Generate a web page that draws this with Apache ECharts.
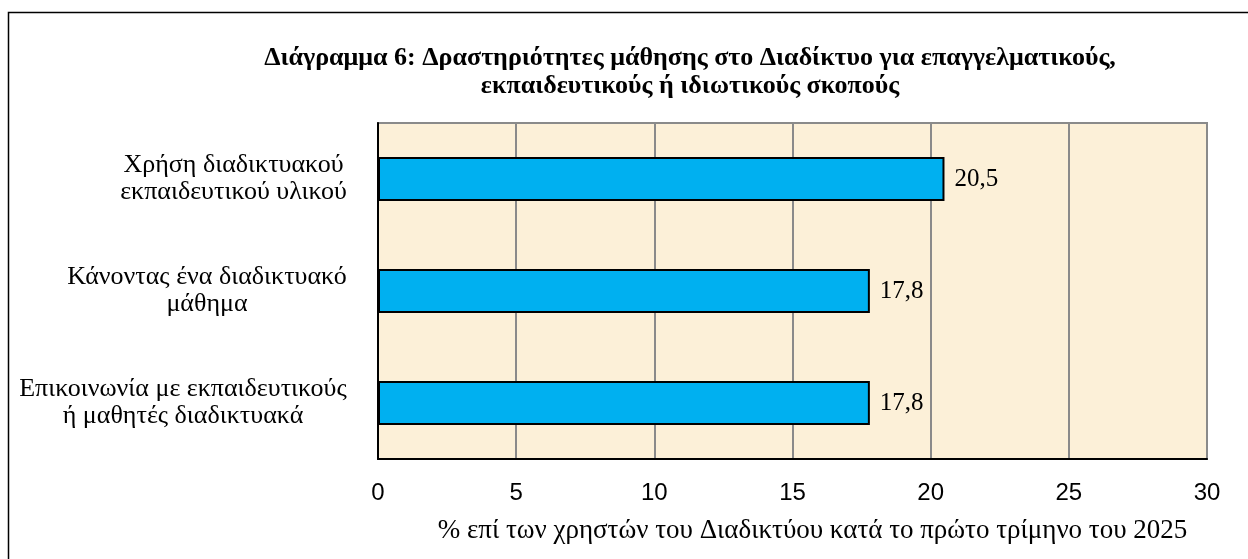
<!DOCTYPE html>
<html>
<head>
<meta charset="utf-8">
<script src="https://cdn.jsdelivr.net/npm/echarts@6/dist/echarts.min.js"></script>
<style>
  html, body { margin: 0; padding: 0; background: #fff; }
  #chart { width: 1248px; height: 559px; }
</style>
</head>
<body>
<div id="chart"></div>
<script>
// κατηγορίες (από κάτω προς τα πάνω, όπως τις βάζει ο άξονας)
var categories = [
  'Επικοινωνία με εκπαιδευτικούς\nή μαθητές διαδικτυακά',
  'Κάνοντας ένα διαδικτυακό\nμάθημα',
  'Χρήση διαδικτυακού\nεκπαιδευτικού υλικού'
];
var values = [17.8, 17.8, 20.5];
var xTicks = [0, 5, 10, 15, 20, 25, 30];

var serif = '"Liberation Serif", "DejaVu Serif", serif';
var sans = '"Liberation Sans", "Open Sans", sans-serif';
var labelSize = 26;

// πλάτος του μεγαλύτερου στίχου κάθε ετικέτας, για να κεντράρονται οι γραμμές μέσα στο μπλοκ
var ctx = document.createElement('canvas').getContext('2d');
ctx.font = labelSize + 'px ' + serif;
var rich = {};
categories.forEach(function (c, i) {
  var w = 0;
  c.split('\n').forEach(function (line) { w = Math.max(w, ctx.measureText(line).width); });
  rich['c' + i] = { width: Math.ceil(w), align: 'center', fontFamily: serif, fontSize: labelSize, color: '#000', lineHeight: 27 };
});

var chart = echarts.init(document.getElementById('chart'));
var option = {
  animation: false,
  title: {
    text: 'Διάγραμμα 6: Δραστηριότητες μάθησης στο Διαδίκτυο για επαγγελματικούς,\nεκπαιδευτικούς ή ιδιωτικούς σκοπούς',
    left: 685,
    top: 39,
    textAlign: 'center',
    textStyle: { fontFamily: serif, fontSize: 26, fontWeight: 'bold', color: '#000', lineHeight: 28 }
  },
  graphic: [
    // πλαίσιο γύρω από όλο το διάγραμμα
    { type: 'rect', shape: { x: 8.5, y: 12.5, width: 1300, height: 600 },
      style: { fill: 'none', stroke: '#000', lineWidth: 1.5 }, z: 0 }
  ],
  grid: {
    left: 378, right: 41, top: 123, bottom: 100,
    show: true, backgroundColor: '#fcf0d8', borderColor: '#8a8a8a', borderWidth: 2
  },
  xAxis: {
    type: 'value', min: 0, max: 30, interval: 5,
    name: '% επί των χρηστών του Διαδικτύου κατά το πρώτο τρίμηνο του 2025',
    nameLocation: 'middle', nameGap: 58,
    nameTextStyle: { fontFamily: serif, fontSize: 27, color: '#000', padding: [0, 0, 0, 40] },
    axisLine: { show: true, lineStyle: { color: '#000', width: 2 } },
    axisTick: { show: false },
    axisLabel: {
      fontFamily: sans, fontSize: 24, color: '#000', margin: 22,
      formatter: function (v) { return xTicks.indexOf(v) >= 0 ? String(v) : ''; }
    },
    splitLine: { show: true, lineStyle: { color: '#8a8a8a', width: 2 } }
  },
  yAxis: {
    type: 'category', data: categories,
    axisLine: { show: true, lineStyle: { color: '#000', width: 2 } },
    axisTick: { show: false },
    axisLabel: {
      align: 'right', margin: 31, rich: rich,
      formatter: function (v, i) {
        return v.split('\n').map(function (l) { return '{c' + i + '|' + l + '}'; }).join('\n');
      }
    }
  },
  series: [{
    type: 'bar', data: values, barWidth: 44,
    itemStyle: { color: '#00b0f0', borderColor: '#000', borderWidth: 2 },
    label: {
      show: true, position: 'right', distance: 10,
      fontFamily: serif, fontSize: 25, color: '#000',
      formatter: function (p) { return String(p.value).replace('.', ','); }
    }
  }]
};
chart.setOption(option);
</script>
</body>
</html>
